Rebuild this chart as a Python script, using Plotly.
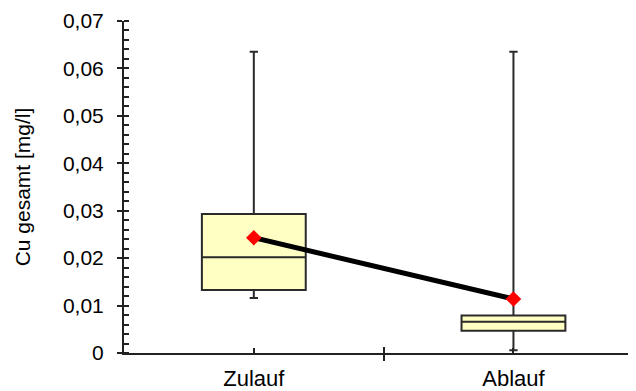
import plotly.graph_objects as go

categories = ["Zulauf", "Ablauf"]
cat_pos = [1, 2]
q1 = [0.0133, 0.0047]
median = [0.0202, 0.0066]
q3 = [0.0293, 0.0079]
lower = [0.0116, 0.0006]
upper = [0.0635, 0.0635]
mean = [0.0243, 0.0114]

ytick_vals = [0, 0.01, 0.02, 0.03, 0.04, 0.05, 0.06, 0.07]
ytick_text = ["0", "0,01", "0,02", "0,03", "0,04", "0,05", "0,06", "0,07"]

font = "Liberation Sans, Arial, sans-serif"

fig = go.Figure()
for i in range(len(categories)):
    fig.add_trace(go.Box(
        x=[cat_pos[i]], q1=[q1[i]], median=[median[i]], q3=[q3[i]],
        lowerfence=[lower[i]], upperfence=[upper[i]],
        width=0.4, whiskerwidth=0.08,
        fillcolor="#FFFFC4", line=dict(color="#2a2a2a", width=2),
        boxpoints=False, hoverinfo="skip", showlegend=False,
    ))

fig.add_trace(go.Scatter(
    x=cat_pos, y=mean, mode="lines+markers",
    line=dict(color="black", width=5),
    marker=dict(symbol="diamond", size=12, color="#FF0000"),
    showlegend=False,
))
# helper trace for overlay axes
fig.add_trace(go.Scatter(x=[None], y=[None], xaxis="x2", yaxis="y2", showlegend=False))

fig.update_layout(
    width=628, height=383,
    margin=dict(l=116, r=0, t=13, b=38),
    paper_bgcolor="white", plot_bgcolor="white",
    font=dict(family=font, size=21, color="black"),
    xaxis=dict(
        range=[0.5, 2.472], tickmode="array", tickvals=cat_pos, ticktext=categories,
        ticks="inside", ticklen=5, tickwidth=2, tickcolor="#222", automargin=False,
        showline=True, linecolor="#222", linewidth=2, showgrid=False, zeroline=False,
        tickfont=dict(size=22), ticklabelstandoff=5,
        minor=dict(tickmode="array", tickvals=[1.5], ticks="outside", ticklen=6,
                   tickwidth=2, tickcolor="#222", showgrid=False),
    ),
    xaxis2=dict(
        range=[0.5, 2.472], overlaying="x", anchor="y", side="bottom", automargin=False,
        tickmode="array", tickvals=[1.5], ticks="inside", ticklen=6, tickwidth=2,
        tickcolor="#222", showticklabels=False, showline=False, showgrid=False, zeroline=False,
    ),
    yaxis=dict(
        range=[0, 0.07], tickmode="array", tickvals=ytick_vals, ticktext=ytick_text,
        ticks="outside", ticklen=5, tickwidth=2, tickcolor="#222", automargin=False,
        showline=True, linecolor="#222", linewidth=2, showgrid=False, zeroline=False,
        ticklabelstandoff=9, tickfont=dict(size=21),
        title=dict(text="Cu gesamt [mg/l]", font=dict(size=21), standoff=27),
        minor=dict(dtick=0.002, tick0=0, ticks="inside", ticklen=5, tickwidth=1.5,
                   tickcolor="#222", showgrid=False),
    ),
    yaxis2=dict(
        range=[0, 0.07], overlaying="y", anchor="x", side="left", automargin=False,
        tickmode="array", tickvals=ytick_vals, ticks="inside", ticklen=5, tickwidth=2,
        tickcolor="#222", showticklabels=False, showline=False, showgrid=False, zeroline=False,
    ),
)

fig.write_html("out.html")
